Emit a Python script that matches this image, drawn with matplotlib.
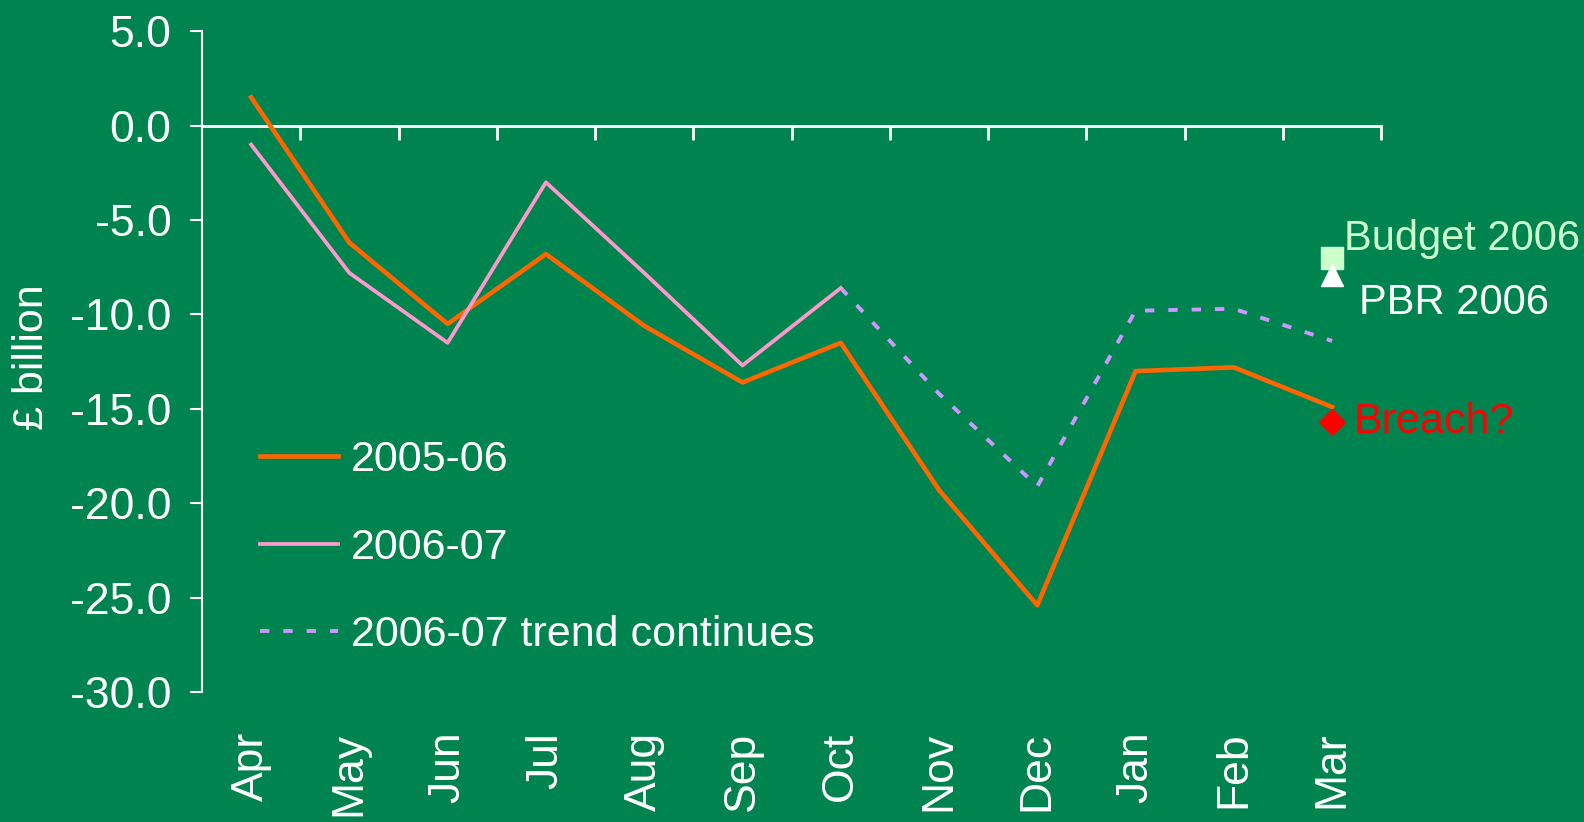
import numpy as np
import matplotlib
matplotlib.use("Agg")
import matplotlib.pyplot as plt
from matplotlib.transforms import blended_transform_factory

months = ["Apr", "May", "Jun", "Jul", "Aug", "Sep", "Oct", "Nov", "Dec", "Jan", "Feb", "Mar"]
y2005 = [1.5, -6.2, -10.5, -6.8, -10.6, -13.6, -11.5, -19.3, -25.4, -13.0, -12.8, -14.9]
y2006 = [-1.0, -7.8, -11.5, -3.0, -7.8, -12.7, -8.6]
trend_months = ["Oct", "Nov", "Dec", "Jan", "Feb", "Mar"]
trend = [-8.6, -14.2, -19.1, -9.8, -9.7, -11.4]
budget_2006 = -7.0
pbr_2006 = -7.9
breach = -15.7

bg = "#00844F"
plt.rcParams["font.family"] = ["Liberation Sans", "DejaVu Sans"]

fig = plt.figure(figsize=(15.84, 8.22), dpi=100, facecolor=bg)
ax = fig.add_axes([0.1275, 0.158, 0.7445, 0.804])
ax.set_facecolor(bg)

x = np.arange(len(months))
pos = {m: i for i, m in enumerate(months)}
xt = [pos[m] for m in trend_months]

ax.plot(x, y2005, color="#FF6600", lw=3.3, label="2005-06", zorder=3)
ax.plot(x[:len(y2006)], y2006, color="#FF99CC", lw=2.7, label="2006-07", zorder=3)
ax.plot(xt, trend, color="#CC99FF", lw=2.8, ls=(0, (2.4, 3.6)), label="2006-07 trend continues", zorder=2)

xm = pos["Mar"]
ax.plot([xm], [budget_2006], marker="s", ms=16, color="#CCFFCC", ls="none", zorder=4)
ax.plot([xm], [pbr_2006], marker="^", ms=16, color="white", ls="none", zorder=5)
ax.plot([xm], [breach], marker="D", ms=13, color="red", ls="none", zorder=4)

ax.text(xm + 0.12, budget_2006 + 1.0, "Budget 2006", color="#CCFFCC", fontsize=30, va="center", ha="left")
ax.text(xm + 0.27, pbr_2006 - 1.5, "PBR 2006", color="white", fontsize=30, va="center", ha="left")
ax.text(xm + 0.22, breach, "Breach?", color="red", fontsize=31, va="center", ha="left")

ax.set_xlim(-0.5, 11.5)
ax.set_ylim(-30, 5)
ax.set_yticks(np.arange(-30, 5.1, 5))
ax.set_yticklabels([f"{v:.1f}" for v in np.arange(-30, 5.1, 5)])
ax.tick_params(axis="y", colors="white", labelsize=32, length=9, width=1.5, direction="out", pad=13)

for s in ["top", "right"]:
    ax.spines[s].set_visible(False)
ax.spines["left"].set_color("white")
ax.spines["left"].set_linewidth(1.5)
ax.spines["bottom"].set_position(("data", 0))
ax.spines["bottom"].set_color("white")
ax.spines["bottom"].set_linewidth(2)
ax.set_xticks(np.arange(0.5, 11.6, 1))
ax.set_xticklabels([])
ax.tick_params(axis="x", colors="white", length=10, width=2, direction="out")

tr = blended_transform_factory(ax.transData, ax.transAxes)
for i, m in enumerate(months):
    ax.text(i, -0.06, m, transform=tr, rotation=90, ha="center", va="top", color="white", fontsize=32)

fig.text(0.02, 0.565, "£ billion", rotation=90, color="white", fontsize=31, ha="center", va="center")

leg = ax.legend(loc="upper left", bbox_to_anchor=(0.035, 0.407), frameon=False, fontsize=31,
                handlelength=1.8, handletextpad=0.3, labelspacing=1.1, borderaxespad=0)
for t in leg.get_texts():
    t.set_color("white")

fig.savefig("out.png", dpi=100, facecolor=bg)
